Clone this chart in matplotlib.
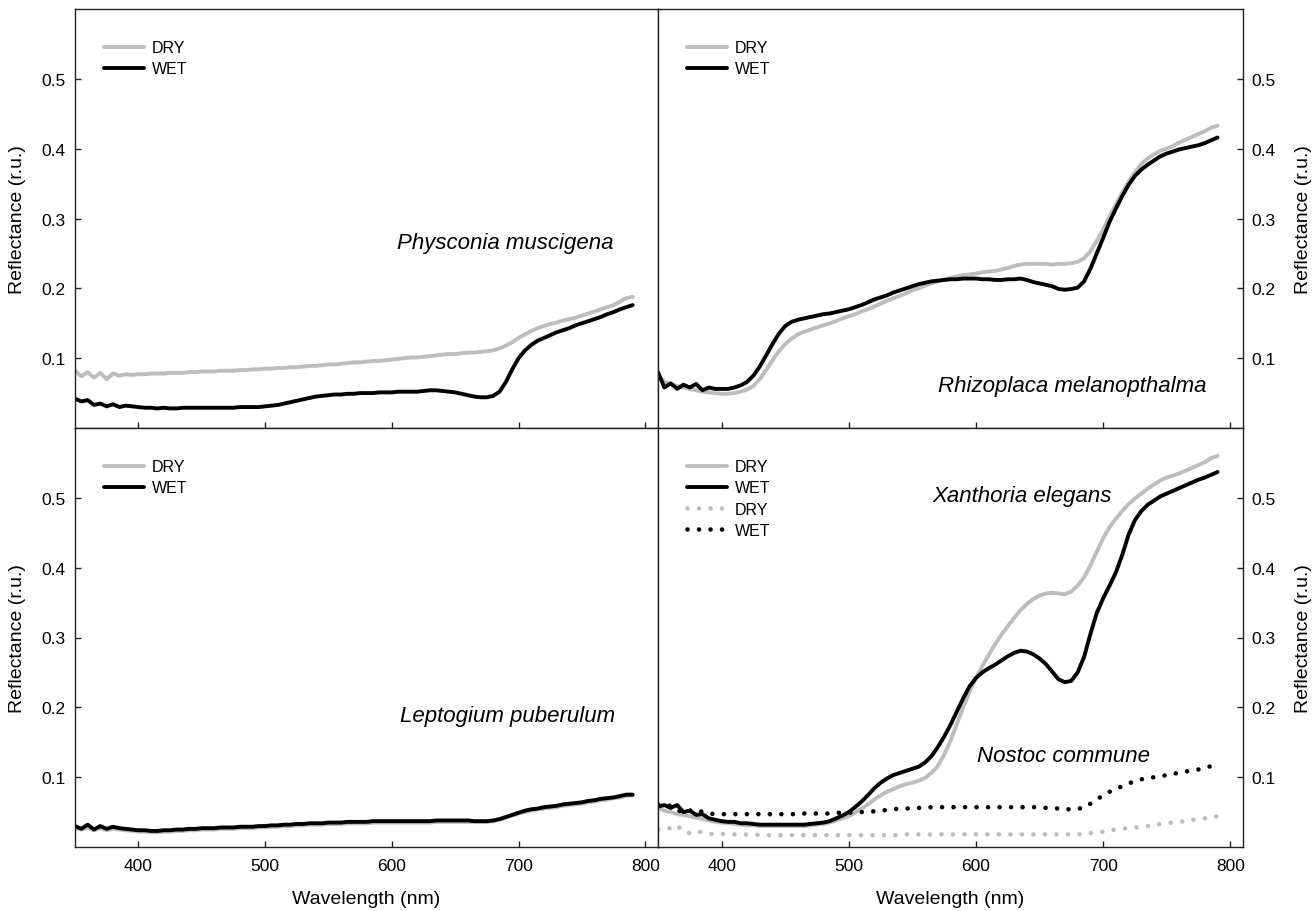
import numpy as np
import matplotlib.pyplot as plt
from matplotlib.ticker import FormatStrFormatter

plt.rcParams['font.family'] = ['Liberation Sans', 'DejaVu Sans']

# wavelength grid (nm), 5 nm steps 350..790
wl = list(range(350, 791, 5))

# Physconia muscigena
phys_dry = [0.082, 0.074, 0.080, 0.072, 0.079, 0.070, 0.078, 0.075, 0.077, 0.076,
            0.077, 0.077, 0.078, 0.078, 0.078, 0.079, 0.079, 0.079, 0.080, 0.080,
            0.081, 0.081, 0.081, 0.082, 0.082, 0.082, 0.083, 0.083, 0.084, 0.084,
            0.085, 0.085, 0.086, 0.086, 0.087, 0.087, 0.088, 0.089, 0.089, 0.090,
            0.091, 0.091, 0.092, 0.093, 0.094, 0.094, 0.095, 0.096, 0.096, 0.097,
            0.098, 0.099, 0.100, 0.101, 0.101, 0.102, 0.103, 0.104, 0.105, 0.106,
            0.106, 0.107, 0.108, 0.108, 0.109, 0.110, 0.111, 0.114, 0.118, 0.123,
            0.129, 0.134, 0.139, 0.143, 0.146, 0.149, 0.151, 0.154, 0.156, 0.158,
            0.161, 0.164, 0.167, 0.170, 0.173, 0.176, 0.181, 0.186, 0.188]
phys_wet = [0.042, 0.038, 0.040, 0.033, 0.035, 0.031, 0.034, 0.030, 0.032, 0.031,
            0.030, 0.029, 0.029, 0.028, 0.029, 0.028, 0.028, 0.029, 0.029, 0.029,
            0.029, 0.029, 0.029, 0.029, 0.029, 0.029, 0.030, 0.030, 0.030, 0.030,
            0.031, 0.032, 0.033, 0.035, 0.037, 0.039, 0.041, 0.043, 0.045, 0.046,
            0.047, 0.048, 0.048, 0.049, 0.049, 0.050, 0.050, 0.050, 0.051, 0.051,
            0.051, 0.052, 0.052, 0.052, 0.052, 0.053, 0.054, 0.054, 0.053, 0.052,
            0.051, 0.049, 0.047, 0.045, 0.044, 0.044, 0.046, 0.052, 0.066, 0.084,
            0.100, 0.111, 0.119, 0.125, 0.129, 0.133, 0.137, 0.140, 0.143, 0.147,
            0.150, 0.153, 0.156, 0.159, 0.163, 0.166, 0.170, 0.173, 0.176]

# Rhizoplaca melanopthalma
rhiz_dry = [0.075, 0.066, 0.063, 0.060, 0.058, 0.056, 0.054, 0.052, 0.051, 0.050,
            0.049, 0.049, 0.050, 0.052, 0.055, 0.060, 0.070, 0.083, 0.097, 0.110,
            0.120, 0.128, 0.134, 0.138, 0.141, 0.144, 0.147, 0.150, 0.153, 0.157,
            0.160, 0.163, 0.167, 0.170, 0.174, 0.178, 0.182, 0.186, 0.189, 0.193,
            0.197, 0.200, 0.204, 0.207, 0.210, 0.213, 0.215, 0.217, 0.219, 0.220,
            0.221, 0.223, 0.224, 0.225, 0.227, 0.229, 0.232, 0.234, 0.235, 0.235,
            0.235, 0.235, 0.234, 0.235, 0.235, 0.236, 0.238, 0.243, 0.253, 0.268,
            0.284, 0.303, 0.320, 0.337, 0.353, 0.366, 0.378, 0.386, 0.392, 0.397,
            0.400, 0.404, 0.409, 0.413, 0.417, 0.421, 0.425, 0.430, 0.433]
rhiz_wet = [0.080, 0.058, 0.064, 0.056, 0.062, 0.058, 0.063, 0.054, 0.058, 0.056,
            0.056, 0.056, 0.058, 0.061, 0.066, 0.075, 0.088, 0.104, 0.120, 0.135,
            0.146, 0.152, 0.155, 0.157, 0.159, 0.161, 0.163, 0.164, 0.166, 0.168,
            0.170, 0.173, 0.176, 0.180, 0.184, 0.187, 0.190, 0.194, 0.197, 0.200,
            0.203, 0.206, 0.208, 0.210, 0.211, 0.212, 0.213, 0.213, 0.214, 0.214,
            0.214, 0.213, 0.213, 0.212, 0.212, 0.213, 0.213, 0.214, 0.212, 0.209,
            0.207, 0.205, 0.203, 0.199, 0.198, 0.199, 0.201, 0.210, 0.228, 0.250,
            0.272, 0.295, 0.314, 0.332, 0.348, 0.361, 0.370, 0.377, 0.383, 0.389,
            0.393, 0.396, 0.399, 0.401, 0.403, 0.405, 0.408, 0.412, 0.416]

# Leptogium puberulum
lept_dry = [0.027, 0.025, 0.028, 0.024, 0.027, 0.024, 0.026, 0.025, 0.024, 0.023,
            0.022, 0.022, 0.021, 0.021, 0.022, 0.022, 0.023, 0.023, 0.024, 0.024,
            0.025, 0.025, 0.025, 0.026, 0.026, 0.026, 0.027, 0.027, 0.027, 0.028,
            0.028, 0.029, 0.029, 0.030, 0.030, 0.031, 0.031, 0.032, 0.032, 0.032,
            0.033, 0.033, 0.033, 0.034, 0.034, 0.034, 0.034, 0.035, 0.035, 0.035,
            0.035, 0.035, 0.035, 0.035, 0.035, 0.035, 0.035, 0.036, 0.036, 0.036,
            0.036, 0.036, 0.036, 0.036, 0.036, 0.036, 0.037, 0.039, 0.042, 0.045,
            0.048, 0.050, 0.052, 0.054, 0.055, 0.056, 0.057, 0.059, 0.060, 0.061,
            0.062, 0.064, 0.065, 0.067, 0.068, 0.070, 0.071, 0.073, 0.074]
lept_wet = [0.030, 0.026, 0.032, 0.025, 0.030, 0.026, 0.029, 0.027, 0.026, 0.025,
            0.024, 0.024, 0.023, 0.023, 0.024, 0.024, 0.025, 0.025, 0.026, 0.026,
            0.027, 0.027, 0.027, 0.028, 0.028, 0.028, 0.029, 0.029, 0.029, 0.030,
            0.030, 0.031, 0.031, 0.032, 0.032, 0.033, 0.033, 0.034, 0.034, 0.034,
            0.035, 0.035, 0.035, 0.036, 0.036, 0.036, 0.036, 0.037, 0.037, 0.037,
            0.037, 0.037, 0.037, 0.037, 0.037, 0.037, 0.037, 0.038, 0.038, 0.038,
            0.038, 0.038, 0.038, 0.037, 0.037, 0.037, 0.038, 0.040, 0.043, 0.046,
            0.049, 0.052, 0.054, 0.055, 0.057, 0.058, 0.059, 0.061, 0.062, 0.063,
            0.064, 0.066, 0.067, 0.069, 0.070, 0.071, 0.073, 0.075, 0.075]

# Xanthoria elegans
xant_dry = [0.056, 0.052, 0.050, 0.047, 0.046, 0.044, 0.042, 0.040, 0.038, 0.036,
            0.035, 0.034, 0.033, 0.032, 0.031, 0.031, 0.030, 0.030, 0.030, 0.030,
            0.030, 0.030, 0.030, 0.030, 0.031, 0.032, 0.033, 0.035, 0.038, 0.041,
            0.044, 0.049, 0.055, 0.061, 0.068, 0.074, 0.079, 0.083, 0.087, 0.090,
            0.092, 0.095, 0.099, 0.106, 0.116, 0.132, 0.152, 0.176, 0.200, 0.222,
            0.242, 0.259, 0.275, 0.290, 0.304, 0.316, 0.328, 0.339, 0.348, 0.355,
            0.360, 0.363, 0.364, 0.363, 0.362, 0.366, 0.374, 0.386, 0.403, 0.423,
            0.442, 0.458, 0.470, 0.481, 0.491, 0.499, 0.506, 0.513, 0.519, 0.525,
            0.529, 0.532, 0.535, 0.539, 0.543, 0.547, 0.551, 0.557, 0.560]
xant_wet = [0.058, 0.060, 0.056, 0.060, 0.050, 0.052, 0.046, 0.047, 0.041, 0.039,
            0.037, 0.036, 0.036, 0.034, 0.034, 0.033, 0.032, 0.032, 0.032, 0.032,
            0.032, 0.032, 0.032, 0.032, 0.033, 0.034, 0.035, 0.037, 0.041, 0.045,
            0.050, 0.057, 0.065, 0.074, 0.084, 0.092, 0.098, 0.103, 0.106, 0.109,
            0.112, 0.115, 0.121, 0.130, 0.143, 0.158, 0.175, 0.194, 0.213, 0.230,
            0.242, 0.250, 0.256, 0.261, 0.267, 0.273, 0.278, 0.281, 0.280, 0.276,
            0.270, 0.262, 0.251, 0.240, 0.236, 0.238, 0.250, 0.272, 0.305, 0.335,
            0.356, 0.374, 0.393, 0.418, 0.447, 0.468, 0.481, 0.490, 0.496, 0.502,
            0.506, 0.510, 0.514, 0.518, 0.522, 0.526, 0.529, 0.533, 0.537]

# Nostoc commune
nost_dry = [0.025, 0.026, 0.027, 0.031, 0.022, 0.020, 0.023, 0.021, 0.019, 0.018,
            0.019, 0.018, 0.018, 0.018, 0.018, 0.018, 0.017, 0.017, 0.017, 0.017,
            0.017, 0.017, 0.017, 0.017, 0.017, 0.017, 0.017, 0.017, 0.017, 0.017,
            0.017, 0.017, 0.017, 0.017, 0.017, 0.017, 0.017, 0.017, 0.017, 0.018,
            0.018, 0.018, 0.018, 0.018, 0.018, 0.018, 0.018, 0.018, 0.018, 0.018,
            0.018, 0.018, 0.018, 0.018, 0.018, 0.018, 0.018, 0.018, 0.018, 0.018,
            0.018, 0.018, 0.018, 0.018, 0.018, 0.018, 0.018, 0.019, 0.020, 0.021,
            0.022, 0.024, 0.025, 0.026, 0.027, 0.028, 0.029, 0.030, 0.031, 0.033,
            0.034, 0.035, 0.036, 0.037, 0.039, 0.040, 0.041, 0.043, 0.044]
nost_wet = [0.061, 0.060, 0.059, 0.053, 0.049, 0.052, 0.054, 0.050, 0.048, 0.047,
            0.047, 0.047, 0.047, 0.047, 0.047, 0.047, 0.047, 0.047, 0.047, 0.047,
            0.047, 0.047, 0.047, 0.048, 0.048, 0.048, 0.048, 0.048, 0.049, 0.049,
            0.049, 0.050, 0.050, 0.051, 0.051, 0.052, 0.053, 0.054, 0.055, 0.055,
            0.056, 0.056, 0.056, 0.057, 0.057, 0.057, 0.057, 0.057, 0.057, 0.057,
            0.057, 0.057, 0.057, 0.057, 0.057, 0.057, 0.057, 0.057, 0.057, 0.057,
            0.057, 0.056, 0.056, 0.055, 0.054, 0.054, 0.055, 0.056, 0.062, 0.068,
            0.074, 0.079, 0.083, 0.087, 0.091, 0.094, 0.097, 0.098, 0.100, 0.101,
            0.103, 0.105, 0.106, 0.108, 0.110, 0.111, 0.113, 0.116, 0.117]

GRAY = '#bdbdbd'
BLACK = '#000000'
LW = 2.8
DOTS = (0, (0.01, 2.5))

fig = plt.figure(figsize=(13.16, 9.12), dpi=100)
W, H = 1316, 912
x0, xm, x1 = 75, 658, 1243
y0, ym, y1 = 10, 429, 848


def box(l, t, r, b):
    return [l / W, 1 - b / H, (r - l) / W, (b - t) / H]


ax_tl = fig.add_axes(box(x0, y0, xm, ym))
ax_tr = fig.add_axes(box(xm, y0, x1, ym))
ax_bl = fig.add_axes(box(x0, ym, xm, y1))
ax_br = fig.add_axes(box(xm, ym, x1, y1))


def setup(ax, right, bottom):
    ax.set_xlim(350, 810)
    ax.set_ylim(0, 0.6)
    ax.set_xticks([400, 500, 600, 700, 800])
    ax.set_yticks([0.1, 0.2, 0.3, 0.4, 0.5])
    ax.yaxis.set_major_formatter(FormatStrFormatter('%.1f'))
    for s in ax.spines.values():
        s.set_linewidth(1.0)
        s.set_color('#222222')
    ax.tick_params(direction='in', length=4, width=1, labelsize=12.5, color='#222222')
    ax.tick_params(axis='x', top=False, labelbottom=bottom, pad=8)
    if right:
        ax.yaxis.tick_right()
        ax.yaxis.set_label_position('right')
        ax.tick_params(axis='y', left=False, right=True, pad=6)
        ax.set_ylabel('Reflectance (r.u.)', fontsize=14, labelpad=14)
    else:
        ax.tick_params(axis='y', left=True, right=False, pad=7)
        ax.set_ylabel('Reflectance (r.u.)', fontsize=14, labelpad=11)
    if bottom:
        ax.set_xlabel('Wavelength (nm)', fontsize=14, labelpad=12)


def legend(ax):
    ax.legend(loc='upper left', bbox_to_anchor=(0.05, 0.925), frameon=False,
              fontsize=11.5, handlelength=2.5, handletextpad=0.5,
              labelspacing=0.38, borderaxespad=0, borderpad=0)


for ax, dry, wet in [(ax_tl, phys_dry, phys_wet), (ax_tr, rhiz_dry, rhiz_wet),
                     (ax_bl, lept_dry, lept_wet), (ax_br, xant_dry, xant_wet)]:
    ax.plot(wl, dry, color=GRAY, lw=LW, label='DRY', solid_capstyle='round')
    ax.plot(wl, wet, color=BLACK, lw=LW, label='WET', solid_capstyle='round')

ax_br.plot(wl, nost_dry, color=GRAY, lw=3.3, linestyle=DOTS,
           dash_capstyle='round', label='DRY')
ax_br.plot(wl, nost_wet, color=BLACK, lw=3.3, linestyle=DOTS,
           dash_capstyle='round', label='WET')

setup(ax_tl, False, False)
setup(ax_tr, True, False)
setup(ax_bl, False, True)
setup(ax_br, True, True)
for ax in (ax_tl, ax_tr, ax_bl, ax_br):
    legend(ax)

lab = dict(ha='right', va='center', style='italic', fontsize=16)
ax_tl.text(775, 0.265, 'Physconia muscigena', **lab)
ax_tr.text(781, 0.061, 'Rhizoplaca melanopthalma', **lab)
ax_bl.text(776, 0.188, 'Leptogium puberulum', **lab)
ax_br.text(707, 0.503, 'Xanthoria elegans', **lab)
ax_br.text(737, 0.131, 'Nostoc commune', **lab)

fig.savefig('out.png', dpi=100)
